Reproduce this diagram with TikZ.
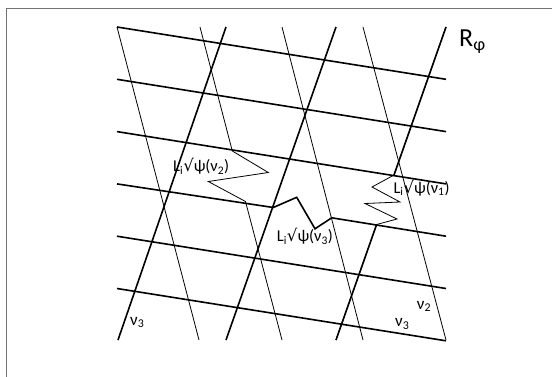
\documentclass[tikz,border=0pt]{standalone}
\usepackage{fontspec}
\setmainfont{Carlito}
\newfontfamily\symfont{DejaVu Sans}
\newcommand{\sqr}{{\symfont\char"221A}}
\begin{document}
\begin{tikzpicture}[x=1pt,y=-1pt,
  thickline/.style={line width=1.6pt},
  thinline/.style={line width=0.8pt},
  lab/.style={inner sep=0pt,anchor=base west,font=\fontsize{16.5}{18}\selectfont},
  nlab/.style={inner sep=0pt,anchor=base west,font=\fontsize{17}{19}\selectfont}]
\useasboundingbox (0,0) rectangle (552,376);
\draw[gray!90!black,line width=1pt] (6,380) -- (6,8) -- (560,8);
% horizontal thick lines
\foreach \k in {0,1,2,4,5}{
  \draw[thickline] (117,{27+52.3*\k}) -- (446,{79.3+52.3*\k});
}
\coordinate (h4a) at (117,183.9);
\coordinate (h4b) at (273.3,207.5);
\coordinate (z1) at (296.7,197.3);
\coordinate (z2) at (315,228.8);
\coordinate (h4c) at (331.7,217.8);
\coordinate (h4d) at (446,236.2);
\draw[thickline,line join=miter] (h4a) -- (h4b) -- (z1) -- (z2) -- (h4c) -- (h4d);
% thin slanted lines
\draw[thinline] (117,27) -- (199,340);
\coordinate (t2a) at (200,27);
\coordinate (t2b) at (232.3,151);
\coordinate (w1) at (268.3,172.5);
\coordinate (w2) at (208.3,181.5);
\coordinate (t2c) at (245.5,201.5);
\coordinate (t2d) at (282,340);
\draw[thinline] (t2a) -- (t2b) -- (w1) -- (w2) -- (t2c) -- (t2d);
\draw[thinline] (282,27) -- (363,340);
\draw[thinline] (363,27) -- (446,340);
% thick slanted lines
\draw[thickline] (226,27) -- (118,340);
\draw[thickline] (336,27) -- (226,340);
\coordinate (s3a) at (446,27);
\coordinate (s3b) at (394,175);
\coordinate (v1) at (372,187);
\coordinate (v2) at (400,202);
\coordinate (v3) at (365,203.5);
\coordinate (v4) at (397,219);
\coordinate (s3c) at (376.6,224.5);
\coordinate (s3d) at (336,340);
\draw[thinline,line join=miter] (s3a) -- (s3b) -- (v1) -- (v2) -- (v3) -- (v4) -- (s3c) -- (s3d);
\draw[thickline] (s3a) -- (s3b);
\draw[thickline] (s3c) -- (s3d);
% labels
\node[lab] (l2) at (173,171.7) {L\textsubscript{i}\sqr ψ(ν\textsubscript{2})};
\node[lab] (l3) at (276.7,241.7) {L\textsubscript{i}\sqr ψ(ν\textsubscript{3})};
\node[lab] (l1) at (393.3,193.3) {L\textsubscript{i}\sqr ψ(ν\textsubscript{1})};
\node[inner sep=0pt,anchor=base west,font=\fontsize{26}{28}\selectfont] (r) at (459,46.5) {R\textsubscript{φ}};
\node[nlab] (n3a) at (130,325) {ν\textsubscript{3}};
\node[nlab] (n2) at (416.7,309.3) {ν\textsubscript{2}};
\node[nlab] (n3b) at (395,326.7) {ν\textsubscript{3}};
\end{tikzpicture}
\end{document}
